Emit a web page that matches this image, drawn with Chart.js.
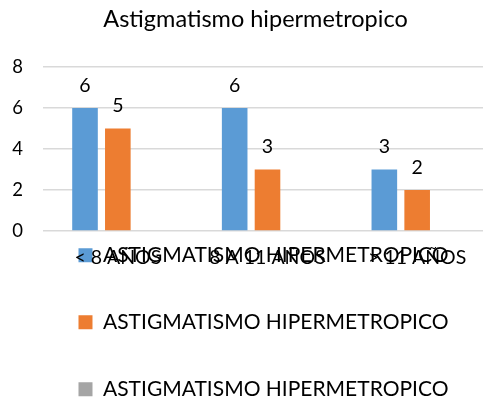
<!DOCTYPE html>
<html>
<head>
<meta charset="utf-8">
<script src="https://cdn.jsdelivr.net/npm/chart.js@4/dist/chart.umd.min.js"></script>
<style>
  html, body { margin: 0; padding: 0; background: #ffffff; overflow: hidden; }
  #wrap { position: relative; width: 492px; height: 400px; }
</style>
</head>
<body>
<div id="wrap"><canvas id="chart"></canvas></div>
<script>
// Age groups and counts per series
const categories = ['< 8 AÑOS', '8 A 11 AÑOS', '> 11 AÑOS'];
const seriesNames = ['ASTIGMATISMO HIPERMETROPICO', 'ASTIGMATISMO HIPERMETROPICO', 'ASTIGMATISMO HIPERMETROPICO'];
const seriesBlue = [6, 6, 3];
const seriesOrange = [5, 3, 2];
const seriesGray = [null, null, null];
const yTickValues = [0, 2, 4, 6, 8];
const chartTitle = 'Astigmatismo hipermetropico';

const FONT = 'Lato';
const TEXT = '#000000';

// Writes each bar's value above it
const valueLabels = {
  id: 'valueLabels',
  afterDatasetsDraw(chart) {
    const ctx = chart.ctx;
    ctx.save();
    ctx.font = '19.5px ' + FONT;
    ctx.fillStyle = TEXT;
    ctx.textAlign = 'center';
    ctx.textBaseline = 'middle';
    chart.data.datasets.forEach((ds, i) => {
      const meta = chart.getDatasetMeta(i);
      if (meta.hidden) return;
      meta.data.forEach((bar, j) => {
        const v = ds.data[j];
        if (v === null || v === undefined) return;
        ctx.fillText(String(v), bar.x, bar.y - 22.5);
      });
    });
    ctx.restore();
  }
};

// The legend rows start just under the plot, over the category labels;
// title and legend are centred a little right of the canvas middle
const boxTweaks = {
  id: 'boxTweaks',
  afterLayout(chart) {
    const lg = chart.legend;
    if (lg) {
      lg.top = chart.chartArea.bottom - 32.25;
      lg.bottom = chart.height;
      lg.height = lg.bottom - lg.top;
      lg.left += 17.5;
      lg.right += 17.5;
    }
    const t = chart.titleBlock;
    if (t) { t.left += 9.5; t.right += 9.5; }
  }
};

Chart.defaults.font.family = FONT;
Chart.defaults.color = TEXT;

new Chart(document.getElementById('chart'), {
  type: 'bar',
  data: {
    labels: categories,
    datasets: [
      { label: seriesNames[0], data: seriesBlue, backgroundColor: '#5B9BD5' },
      { label: seriesNames[1], data: seriesOrange, backgroundColor: '#ED7D31' },
      { label: seriesNames[2], data: seriesGray, backgroundColor: '#A5A5A5' }
    ]
  },
  options: {
    responsive: true,
    maintainAspectRatio: false,
    animation: false,
    events: [],
    layout: { padding: 0 },
    datasets: {
      bar: { categoryPercentage: 0.658, barPercentage: 0.78, borderWidth: 0 }
    },
    plugins: {
      title: {
        display: true,
        text: chartTitle,
        color: TEXT,
        font: { family: FONT, size: 23.5, weight: 'normal' },
        padding: { top: 5, bottom: 33.8 }
      },
      legend: {
        display: true,
        position: 'bottom',
        maxHeight: 124,
        labels: {
          color: TEXT,
          font: { family: FONT, size: 21 },
          boxWidth: 14,
          boxHeight: 14,
          padding: 46
        }
      },
      tooltip: { enabled: false }
    },
    scales: {
      x: {
        grid: { display: false, drawTicks: false },
        border: { display: false },
        ticks: {
          color: TEXT,
          font: { family: FONT, size: 19.5 },
          padding: 15,
          maxRotation: 0,
          autoSkip: false
        },
        afterFit(scale) { scale.height = 45; }
      },
      y: {
        min: 0,
        max: 8,
        grid: { color: '#D9D9D9', lineWidth: 1.5, drawTicks: false },
        border: { display: false },
        ticks: {
          color: TEXT,
          font: { family: FONT, size: 18.5 },
          padding: 20
        },
        afterBuildTicks(scale) {
          scale.ticks = yTickValues.map(v => ({ value: v }));
        },
        afterFit(scale) { scale.width = 43; }
      }
    }
  },
  plugins: [valueLabels, boxTweaks]
});
</script>
</body>
</html>
